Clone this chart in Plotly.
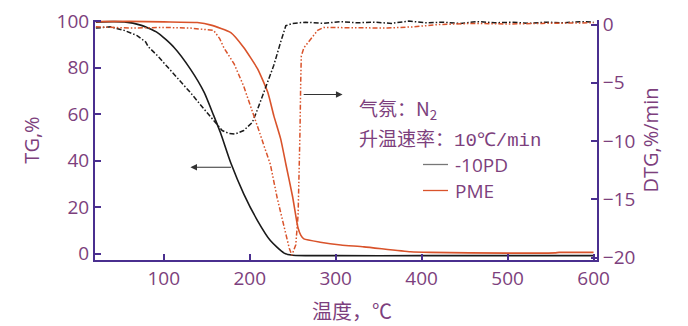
import plotly.graph_objects as go

# TG curves (weight %, left axis)
tg_10pd_t = [21, 40, 54, 73, 93, 112, 131, 147, 158, 166, 178, 193, 209, 224, 240, 250, 300, 400, 500, 600]
tg_10pd_v = [99.6, 99.8, 99.7, 98.3, 95.0, 88.7, 79.4, 69.4, 59.5, 52.0, 39.0, 25.8, 14.3, 5.7, 0.3, -0.6, -0.8, -0.8, -0.8, -0.8]

tg_pme_t = [21, 60, 100, 139, 155, 178, 193, 209, 221, 228, 236, 242, 250, 256, 259.5, 263, 282, 306, 333, 387, 410, 500, 555, 560, 600]
tg_pme_v = [99.8, 99.9, 99.7, 99.4, 98.3, 95.1, 88.7, 79.6, 69.4, 59.4, 49.4, 38.6, 24.3, 11.4, 7.9, 6.4, 5.0, 3.8, 3.0, 0.9, 0.6, 0.3, 0.4, 0.6, 0.6]

# DTG curves (%/min, right axis)
dtg_10pd_t = [21, 38, 54, 69, 79, 82, 93, 112, 131, 147, 155, 162, 168, 176, 183, 193, 203, 209, 219, 228, 236, 242, 250,
              265, 285, 305, 325, 345, 365, 385, 405, 425, 445, 465, 485, 505, 525, 545, 565, 585, 600]
dtg_10pd_v = [-0.3, -0.2, -0.5, -0.95, -1.5, -1.9, -2.7, -4.25, -5.84, -7.27, -8.0, -8.6, -9.1, -9.35, -9.4, -9.1, -8.4, -7.3, -5.3, -3.5, -1.5, -0.1, 0.1,
              0.2, 0.1, 0.25, 0.15, 0.2, 0.1, 0.3, 0.15, 0.2, 0.1, 0.25, 0.15, 0.2, 0.1, 0.2, 0.15, 0.25, 0.2]

dtg_pme_t = [21, 60, 100, 130, 158, 165, 170, 182, 193, 205, 213, 217, 224, 232, 240, 246, 249, 253.6, 256.3, 257.8, 258.5, 259.3, 260,
             263, 271, 279, 286, 320, 360, 390, 420, 460, 500, 540, 580, 600]
dtg_pme_v = [-0.2, -0.3, -0.25, -0.3, -0.5, -1.2, -2.0, -3.4, -5.3, -7.8, -9.6, -10.5, -12.0, -14.9, -17.5, -19.2, -19.8, -18.9, -16.3, -12.0, -9.1, -5.0, -2.7,
             -2.0, -1.2, -0.5, -0.25, -0.3, -0.3, -0.2, 0.0, 0.1, 0.05, 0.1, 0.1, 0.15]

series_names = ["-10PD", "PME"]

TEXT = "#7d3f7d"
AXIS = "#4a2f8f"
BLACK = "#1a1a1a"
ORANGE = "#d9532b"
LEGEND_GREY = "#777777"

fig = go.Figure()
fig.add_trace(go.Scatter(x=tg_10pd_t, y=tg_10pd_v, mode="lines",
                         line=dict(color=BLACK, width=1.6, shape="spline", smoothing=0.6),
                         showlegend=False, yaxis="y"))
fig.add_trace(go.Scatter(x=tg_pme_t, y=tg_pme_v, mode="lines",
                         line=dict(color=ORANGE, width=1.6, shape="spline", smoothing=0.5),
                         showlegend=False, yaxis="y"))
fig.add_trace(go.Scatter(x=dtg_10pd_t, y=dtg_10pd_v, mode="lines",
                         line=dict(color=BLACK, width=1.5, dash="5px,2px,1.5px,2px"),
                         showlegend=False, yaxis="y2"))
fig.add_trace(go.Scatter(x=dtg_pme_t, y=dtg_pme_v, mode="lines",
                         line=dict(color=ORANGE, width=1.5, dash="5px,2px,1.5px,2px,1.5px,2px"),
                         showlegend=False, yaxis="y2"))

tick_font = dict(family="Open Sans", size=19, color=TEXT)
title_font = dict(family="Open Sans", size=20, color=TEXT)

fig.update_layout(
    width=688, height=326,
    margin=dict(l=95, r=91, t=20, b=66, autoexpand=False),
    plot_bgcolor="white", paper_bgcolor="white",
    showlegend=False,
    xaxis=dict(range=[20, 604], tickvals=[100, 200, 300, 400, 500, 600], ticks="inside", ticklen=6, tickwidth=2,
               tickcolor=AXIS, showline=True, linecolor=AXIS, linewidth=2, showgrid=False, zeroline=False,
               tickfont=tick_font, automargin=False),
    yaxis=dict(range=[-2.66, 100.5], tickvals=[0, 20, 40, 60, 80, 100], ticks="inside", ticklen=6, tickwidth=2,
               tickcolor=AXIS, showline=True, linecolor=AXIS, linewidth=2, showgrid=False, zeroline=False,
               tickfont=tick_font, automargin=False, title=dict(text="TG,%", font=title_font, standoff=12)),
    yaxis2=dict(range=[-20.21, 0.39], tickvals=[0, -5, -10, -15, -20], ticks="inside", ticklen=6, tickwidth=2,
                tickcolor=AXIS, showline=True, linecolor=AXIS, linewidth=2, showgrid=False, zeroline=False,
                overlaying="y", side="right", anchor="x", automargin=False,
                tickfont=tick_font, title=dict(text="DTG,%/min", font=title_font, standoff=10)),
)


def px_x(p):
    return (p - 95) / 502


def px_y(p):
    return (259.5 - p) / 240


# x-axis title
fig.add_annotation(x=px_x(352), y=px_y(310), xref="paper", yref="paper", xanchor="center", yanchor="middle",
                   text="温度，℃", showarrow=False, font=dict(family="Noto Sans CJK SC", size=20, color=TEXT))

# arrows pointing at each curve's axis
fig.add_annotation(x=131, y=37.2, ax=180, ay=37.2, xref="x", yref="y", axref="x", ayref="y",
                   showarrow=True, arrowhead=2, arrowsize=1.2, arrowwidth=1.1, arrowcolor="#333333", text="")
fig.add_annotation(x=308, y=-6.0, ax=261, ay=-6.0, xref="x", yref="y2", axref="x", ayref="y2",
                   showarrow=True, arrowhead=2, arrowsize=1.2, arrowwidth=1.1, arrowcolor="#333333", text="")

# test conditions
fig.add_annotation(x=px_x(357), y=px_y(108), xref="paper", yref="paper", xanchor="left", yanchor="middle",
                   text="气氛：N<sub>2</sub>", showarrow=False,
                   font=dict(family="Noto Sans CJK SC", size=19, color=TEXT))
fig.add_annotation(x=px_x(357), y=px_y(137), xref="paper", yref="paper", xanchor="left", yanchor="middle",
                   text="升温速率：<span style=\"font-family:'Liberation Mono'\">10℃/min</span>",
                   showarrow=False, font=dict(family="Noto Sans CJK SC", size=19, color=TEXT))

# legend: short line samples with labels
legend_colors = [LEGEND_GREY, ORANGE]
legend_rows = [164, 190]
for name, col, row in zip(series_names, legend_colors, legend_rows):
    fig.add_shape(type="line", xref="paper", yref="paper", x0=px_x(423), x1=px_x(448), y0=px_y(row), y1=px_y(row),
                  line=dict(color=col, width=1.3))
    fig.add_annotation(x=px_x(453), y=px_y(row), xref="paper", yref="paper", xanchor="left", yanchor="middle",
                       text=name, showarrow=False, font=dict(family="Open Sans", size=19, color=TEXT))

fig.write_html("out.html")
